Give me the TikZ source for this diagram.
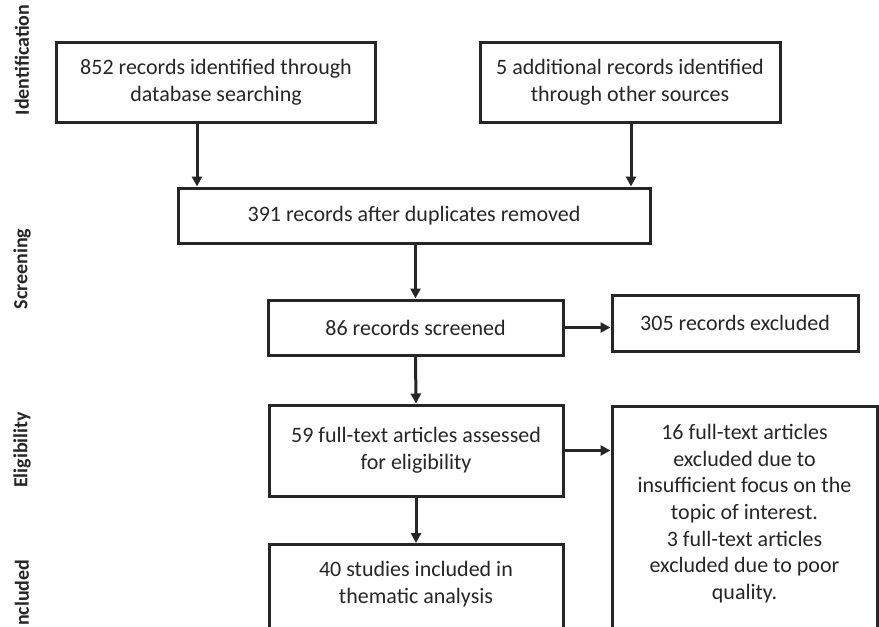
\documentclass[tikz,border=0pt]{standalone}
\usepackage{fontspec}
\setmainfont{Carlito}
\usetikzlibrary{arrows.meta}
\begin{document}
\begin{tikzpicture}[x=1pt,y=-1pt,
  box/.style={draw=black!85, text=black!85, line width=3pt, inner sep=0pt, align=center, font=\fontsize{22}{27}\selectfont},
  txt/.style={text=black!85, inner sep=0pt, align=center, font=\fontsize{22}{26.7}\selectfont},
  phase/.style={text=black!85, rotate=90, font=\bfseries\fontsize{20}{22}\selectfont},
  arr/.style={draw=black!85, line width=3pt, -{Triangle[length=10pt,width=10pt]}}]
\useasboundingbox (0,0) rectangle (879,627);
\clip (0,0) rectangle (879,627);
% phase labels
\node[phase] (lid) at (22,60) {Identification};
\node[phase] (lsc) at (22,269) {Screening};
\node[phase] (lel) at (22,450) {Eligibility};
\node[phase, anchor=east] (lin) at (22,556) {Included};
% boxes
\node[box, minimum width=319, minimum height=80] (db) at (216,82) {852 records identified through\\database searching};
\node[box, minimum width=300, minimum height=80] (oth) at (630,82) {5 additional records identified\\through other sources};
\node[box, minimum width=472, minimum height=55] (dup) at (414,215.5) {391 records after duplicates removed};
\node[box, minimum width=295, minimum height=55] (scr) at (415.5,327.5) {86 records screened};
\node[box, minimum width=246, minimum height=56] (exc) at (735,323) {305 records excluded};
\node[box, minimum width=294, minimum height=91] (elig) at (416,450.5) {59 full-text articles assessed\\for eligibility};
\node[box, minimum width=265, minimum height=260, anchor=north] (ftx) at (744.5,405) {};
\node[txt, anchor=north] (ftxt) at (744.5,424) {16 full-text articles\\excluded due to\\insufficient focus on the\\topic of interest.\\3 full-text articles\\excluded due to poor\\quality.};
\node[box, minimum width=294, minimum height=120, anchor=north] (inc) at (416,543) {};
\node[txt] (inct) at (416,584) {40 studies included in\\thematic analysis};
% arrows
\draw[arr] (db.south -| 197,0) -- (dup.north -| 197,0);
\draw[arr] (oth.south -| 631,0) -- (dup.north -| 631,0);
\draw[arr] (dup.south -| scr.north) -- (scr.north);
\draw[arr] (scr.east) -- (exc.west |- scr.east);
\draw[arr] (scr.south) -- (elig.north);
\draw[arr] (elig.east) -- (ftx.west |- elig.east);
\draw[arr] (elig.south) -- (inc.north);
\end{tikzpicture}
\end{document}
